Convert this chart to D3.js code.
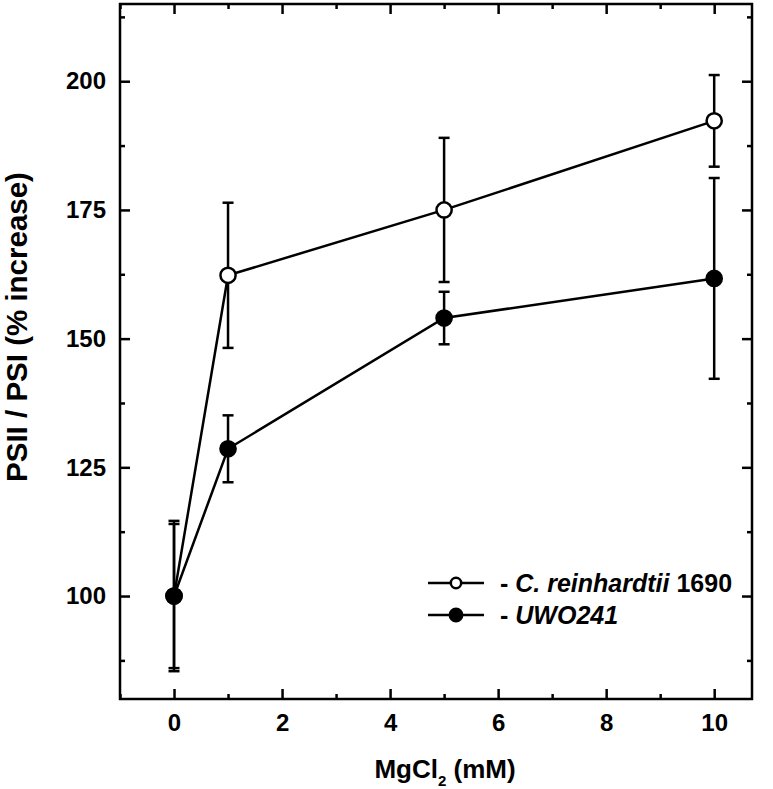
<!DOCTYPE html>
<html>
<head>
<meta charset="utf-8">
<script src="https://cdn.jsdelivr.net/npm/d3@7"></script>
<style>
  body { margin: 0; background: #fff; }
  text { font-family: "Liberation Sans", Arial, sans-serif; font-weight: bold; fill: #000; }
</style>
</head>
<body>
<svg width="773" height="789"></svg>
<script>
// DATA
const concs = [0, 1, 5, 10];
const crMean = [100, 162.3, 175, 192.3];
const crErr = [14.6, 14.1, 14.0, 8.9];
const uwoMean = [100, 128.6, 154, 161.7];
const uwoErr = [14.0, 6.5, 5.1, 19.5];
const xTicks = [0, 2, 4, 6, 8, 10];
const yTicks = [100, 125, 150, 175, 200];

const svg = d3.select('svg');
const pLeft = 120, pTop = 4, pRight = 752, pBottom = 699;

const x = d3.scaleLinear().domain([-1, 10.7]).range([pLeft, pRight]);
const y = d3.scaleLinear().domain([80, 215]).range([pBottom, pTop]);

const series = [
  { mean: crMean, err: crErr, fill: '#fff' },
  { mean: uwoMean, err: uwoErr, fill: '#000' }
];

// AXES (inward ticks, mirrored)
const xMinor = [-1, 1, 3, 5, 7, 9];
const yMinor = [87.5, 112.5, 137.5, 162.5, 187.5, 212.5];

function addAxis(axis, tf) {
  const g = svg.append('g').attr('transform', tf).call(axis);
  g.selectAll('.domain').remove();
  g.selectAll('line').attr('stroke', '#000').attr('stroke-width', 2.5);
  g.selectAll('text')
    .style('font-size', '24px')
    .style('font-family', '"Liberation Sans", Arial, sans-serif')
    .style('font-weight', 'bold');
  return g;
}

// bottom
addAxis(d3.axisBottom(x).tickValues(xTicks).tickSize(-10).tickPadding(15).tickFormat(d3.format('d')),
  `translate(0,${pBottom})`);
addAxis(d3.axisBottom(x).tickValues(xMinor).tickSize(-5).tickFormat(''), `translate(0,${pBottom})`);
// top
addAxis(d3.axisTop(x).tickValues(xTicks).tickSize(-10).tickFormat(''), `translate(0,${pTop})`);
addAxis(d3.axisTop(x).tickValues(xMinor).tickSize(-5).tickFormat(''), `translate(0,${pTop})`);
// left
addAxis(d3.axisLeft(y).tickValues(yTicks).tickSize(-10).tickPadding(14).tickFormat(d3.format('d')),
  `translate(${pLeft},0)`);
addAxis(d3.axisLeft(y).tickValues(yMinor).tickSize(-5).tickFormat(''), `translate(${pLeft},0)`);
// right
addAxis(d3.axisRight(y).tickValues(yTicks).tickSize(-10).tickFormat(''), `translate(${pRight},0)`);
addAxis(d3.axisRight(y).tickValues(yMinor).tickSize(-5).tickFormat(''), `translate(${pRight},0)`);

// frame
svg.append('rect')
  .attr('x', pLeft).attr('y', pTop)
  .attr('width', pRight - pLeft).attr('height', pBottom - pTop)
  .attr('fill', 'none').attr('stroke', '#000').attr('stroke-width', 2.5);

// LINES
const line = d3.line().x((d, i) => x(concs[i])).y(d => y(d));
series.forEach(s => {
  svg.append('path')
    .attr('d', line(s.mean))
    .attr('fill', 'none').attr('stroke', '#000').attr('stroke-width', 2.5);
});

// ERROR BARS
series.forEach(s => {
  const g = svg.append('g').attr('stroke', '#000').attr('stroke-width', 2.5);
  concs.forEach((c, i) => {
    const cx = x(c), hi = y(s.mean[i] + s.err[i]), lo = y(s.mean[i] - s.err[i]);
    g.append('line').attr('x1', cx).attr('x2', cx).attr('y1', hi).attr('y2', lo);
    g.append('line').attr('x1', cx - 5.5).attr('x2', cx + 5.5).attr('y1', hi).attr('y2', hi);
    g.append('line').attr('x1', cx - 5.5).attr('x2', cx + 5.5).attr('y1', lo).attr('y2', lo);
  });
});

// MARKERS
series.forEach(s => {
  svg.append('g').selectAll('circle')
    .data(s.mean)
    .join('circle')
      .attr('cx', (d, i) => x(concs[i]))
      .attr('cy', d => y(d))
      .attr('r', 7.6)
      .attr('fill', s.fill)
      .attr('stroke', '#000')
      .attr('stroke-width', 2.5);
});

// LEGEND
const legend = svg.append('g');
const legendItems = [
  { fill: '#fff', r: 5.2, y: 583, parts: [['- ', 'normal'], ['C. reinhardtii', 'italic'], [' 1690', 'normal']] },
  { fill: '#000', r: 6.2, y: 615, parts: [['- ', 'normal'], ['UWO241', 'italic']] }
];
legendItems.forEach(it => {
  legend.append('line')
    .attr('x1', 428).attr('x2', 484).attr('y1', it.y).attr('y2', it.y)
    .attr('stroke', '#000').attr('stroke-width', 2.5);
  legend.append('circle')
    .attr('cx', 456).attr('cy', it.y).attr('r', it.r)
    .attr('fill', it.fill).attr('stroke', '#000').attr('stroke-width', 2.5);
  const t = legend.append('text')
    .attr('x', 500).attr('y', it.y + 9)
    .style('font-size', '25px');
  it.parts.forEach(p => t.append('tspan').style('font-style', p[1]).text(p[0]));
});

// AXIS TITLES
const xt = svg.append('text')
  .attr('x', 445).attr('y', 778)
  .attr('text-anchor', 'middle')
  .style('font-size', '26px');
xt.append('tspan').text('MgCl');
xt.append('tspan').attr('dy', 8).style('font-size', '15px').text('2');
xt.append('tspan').attr('dy', -8).text(' (mM)');

svg.append('text')
  .attr('transform', `translate(27,327) rotate(-90)`)
  .attr('text-anchor', 'middle')
  .style('font-size', '29.5px')
  .text('PSII / PSI (% increase)');
</script>
</body>
</html>
